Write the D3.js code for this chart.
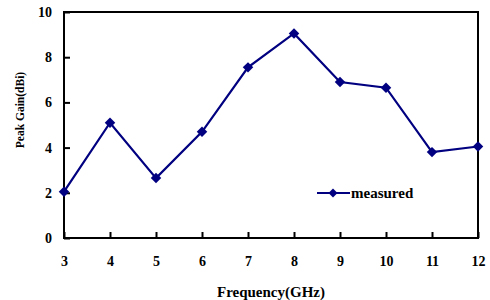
<!DOCTYPE html>
<html>
<head>
<meta charset="utf-8">
<script src="https://cdn.jsdelivr.net/npm/d3@7"></script>
<style>
  body { margin: 0; background: #fff; }
  text { font-family: "Liberation Serif", "Times New Roman", serif; font-weight: bold; }
</style>
</head>
<body>
<svg id="chart" width="490" height="300"></svg>
<script>
const freq = [3, 4, 5, 6, 7, 8, 9, 10, 11, 12];
const gain = [2.05, 5.1, 2.65, 4.7, 7.55, 9.05, 6.9, 6.65, 3.8, 4.05];
const xTicks = [3, 4, 5, 6, 7, 8, 9, 10, 11, 12];
const yTicks = [0, 2, 4, 6, 8, 10];

const svg = d3.select("#chart");
const m = { left: 64, right: 478, top: 12, bottom: 238 };
const x = d3.scaleLinear().domain([3, 12]).range([m.left, m.right]);
const y = d3.scaleLinear().domain([0, 10]).range([m.bottom, m.top]);
const color = "#000080";

// frame
svg.append("rect")
  .attr("x", m.left).attr("y", m.top)
  .attr("width", m.right - m.left).attr("height", m.bottom - m.top)
  .attr("fill", "none").attr("stroke", "#000").attr("stroke-width", 2);

const xAxis = svg.append("g")
  .attr("transform", "translate(0," + m.bottom + ")")
  .call(d3.axisBottom(x).tickValues(xTicks).tickSize(-6).tickPadding(18).tickFormat(d3.format("d")));
const yAxis = svg.append("g")
  .attr("transform", "translate(" + m.left + ",0)")
  .call(d3.axisLeft(y).tickValues(yTicks).tickSize(-6).tickPadding(12).tickFormat(d3.format("d")));

[xAxis, yAxis].forEach(a => {
  a.select(".domain").remove();
  a.selectAll(".tick line").attr("stroke", "#000").attr("stroke-width", 2);
  a.selectAll(".tick text").attr("font-size", 14).attr("fill", "#000")
    .attr("font-family", "Liberation Serif").attr("font-weight", "bold");
});

// line
const pts = freq.map((f, i) => [f, gain[i]]);
svg.append("path")
  .datum(pts)
  .attr("fill", "none").attr("stroke", color).attr("stroke-width", 2.2)
  .attr("d", d3.line().x(d => x(d[0])).y(d => y(d[1])));

svg.selectAll(".pt")
  .data(pts)
  .join("path")
  .attr("class", "pt")
  .attr("transform", d => "translate(" + x(d[0]) + "," + y(d[1]) + ") rotate(45)")
  .attr("d", d3.symbol().type(d3.symbolSquare).size(55))
  .attr("fill", color);

// legend
const lg = svg.append("g").attr("transform", "translate(317,193)");
lg.append("line").attr("x1", 0).attr("x2", 33).attr("stroke", color).attr("stroke-width", 2.2);
lg.append("path").attr("transform", "translate(16,0) rotate(45)")
  .attr("d", d3.symbol().type(d3.symbolSquare).size(40)).attr("fill", color);
lg.append("text").attr("x", 34).attr("y", 5).attr("font-size", 15).text("measured");

// axis titles
svg.append("text")
  .attr("x", 271).attr("y", 297)
  .attr("text-anchor", "middle").attr("font-size", 15)
  .text("Frequency(GHz)");
svg.append("text")
  .attr("transform", "translate(24,110) rotate(-90)")
  .attr("text-anchor", "middle").attr("font-size", 11.5)
  .text("Peak Gain(dBi)");
</script>
</body>
</html>
